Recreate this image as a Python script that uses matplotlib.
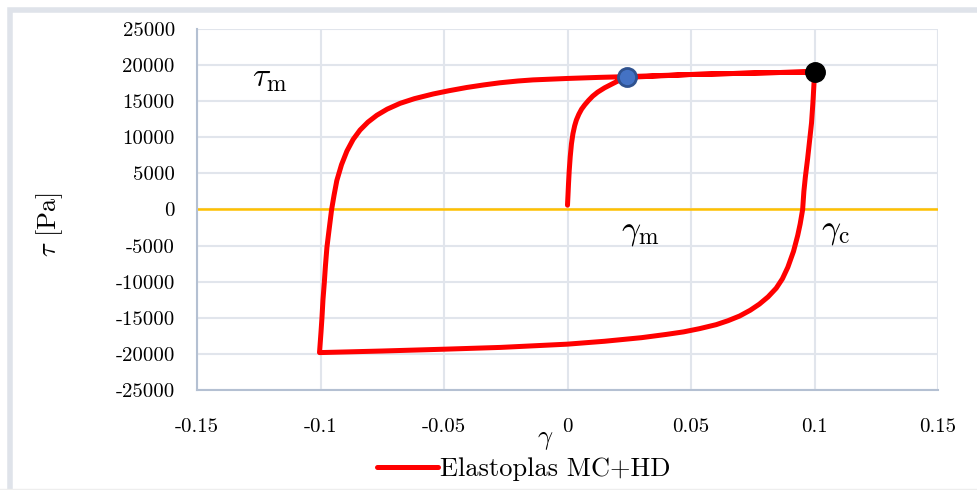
import matplotlib
matplotlib.use("Agg")
import matplotlib.pyplot as plt
from matplotlib.patches import Rectangle

# Data: initial loading, unloading, reloading
gamma = [0.0, 0.0002, 0.0004, 0.0007, 0.0011, 0.0016, 0.0022, 0.0029, 0.0036, 0.0046,
         0.0057, 0.0070, 0.0085, 0.0102, 0.0122, 0.0150, 0.0184, 0.0210, 0.0240,
         0.05, 0.075, 0.1,
         0.0998, 0.0994, 0.0988, 0.0980, 0.0972, 0.0963, 0.0957, 0.0952, 0.0942, 0.0932,
         0.0915, 0.0892, 0.0870, 0.0845, 0.0812, 0.0777, 0.0740, 0.0697, 0.0650, 0.0602,
         0.0535, 0.0470, 0.0400, 0.0300, 0.0150, 0.0, -0.027, -0.05, -0.075, -0.1004,
         -0.0998, -0.0994, -0.0990, -0.0985, -0.0980, -0.0974, -0.0966, -0.0955, -0.0945,
         -0.0934, -0.0915, -0.0893, -0.0868, -0.0840, -0.0808, -0.0772, -0.0730, -0.0678,
         -0.0620, -0.0544, -0.0480, -0.0408, -0.0340, -0.0274, -0.0200, -0.0140, 0.0,
         0.013, 0.024, 0.05, 0.075, 0.1]
tau = [600, 2000, 3500, 5400, 7300, 9100, 10500, 11600, 12400, 13200,
       13900, 14500, 15100, 15700, 16250, 16850, 17450, 17900, 18300,
       18700, 18900, 19070,
       17500, 15000, 12000, 9500, 7000, 4500, 2500, 0, -2000, -3600,
       -5800, -8000, -9600, -10900, -12100, -13100, -13950, -14750, -15400, -15950,
       -16500, -16950, -17300, -17750, -18250, -18650, -19100, -19350, -19600, -19820,
       -17000, -14960, -12500, -10320, -7800, -5240, -3000, 0, 2000,
       4000, 6200, 8100, 9700, 11000, 12100, 13050, 13900, 14700,
       15350, 16000, 16450, 16900, 17250, 17550, 17800, 17950, 18150,
       18300, 18400, 18700, 18900, 19070]

gamma_m, tau_m = 0.024, 18300   # blue marker
gamma_c, tau_c = 0.1, 19070     # black marker

xticks = [-0.15, -0.1, -0.05, 0, 0.05, 0.1, 0.15]
xticklabels = ["-0.15", "-0.1", "-0.05", "0", "0.05", "0.1", "0.15"]
yticks = [25000, 20000, 15000, 10000, 5000, 0, -5000, -10000, -15000, -20000, -25000]
yticklabels = [str(v) for v in yticks]

plt.rcParams['font.family'] = 'cmr10'
plt.rcParams['mathtext.fontset'] = 'cm'
plt.rcParams['axes.unicode_minus'] = False

W, H = 977, 490
fig = plt.figure(figsize=(W / 100, H / 100), dpi=100)

# outer chart frame
fig.patches.append(Rectangle((10 / W, -0.05), 1.2, 1.05 - 10 / H, transform=fig.transFigure,
                             fill=False, edgecolor='#dfe3ea', linewidth=4))
fig.add_artist(plt.Line2D([0, 1], [1 / H, 1 / H], transform=fig.transFigure,
                          color='#eeeeee', linewidth=1))

ax = fig.add_axes([197 / W, 1 - 390 / H, 741 / W, 361 / H])
ax.set_xlim(-0.15, 0.15)
ax.set_ylim(-25000, 25000)
ax.set_xticks(xticks)
ax.set_xticklabels(xticklabels, fontsize=15)
ax.set_yticks(yticks)
ax.set_yticklabels(yticklabels, fontsize=15)
ax.tick_params(axis='x', length=0, pad=20)
ax.tick_params(axis='y', length=0, pad=16)
ax.grid(True, color='#e1e5ec', linewidth=1.5)
ax.set_axisbelow(True)
for s in ['top', 'right']:
    ax.spines[s].set_visible(False)
for s in ['left', 'bottom']:
    ax.spines[s].set_color('#b4c0d2')
    ax.spines[s].set_linewidth(1.5)

ax.axhline(0, color='#FFC000', linewidth=1.8, zorder=2)
line, = ax.plot(gamma, tau, color='#FF0000', linewidth=3.6, solid_joinstyle='round',
                solid_capstyle='round', zorder=3, label='Elastoplas MC+HD')
ax.plot([gamma_m], [tau_m], marker='o', markersize=13, markerfacecolor='#4472C4',
        markeredgecolor='#2F528F', markeredgewidth=2, zorder=4)
ax.plot([gamma_c], [tau_c], marker='o', markersize=14, color='black', zorder=4)

# annotations
fig.text(270 / W, 1 - 79 / H, r'$\tau_\mathrm{m}$', fontsize=24, ha='center', va='center')
fig.text(640 / W, 1 - 233 / H, r'$\gamma_\mathrm{m}$', fontsize=24, ha='center', va='center')
fig.text(835 / W, 1 - 232 / H, r'$\gamma_\mathrm{c}$', fontsize=24, ha='center', va='center')

# axis titles
fig.text(50 / W, 1 - 225 / H, r'$\tau$ [Pa]', fontsize=19, rotation=90, ha='center', va='center')
fig.text(545 / W, 1 - 440 / H, r'$\gamma$', fontsize=19, ha='center', va='center')

fig.legend(handles=[line], loc='center', bbox_to_anchor=(524 / W, 1 - 469 / H), frameon=False,
           fontsize=19, handlelength=2.3, handletextpad=0.1, borderpad=0)

fig.savefig('out.png', dpi=100)
